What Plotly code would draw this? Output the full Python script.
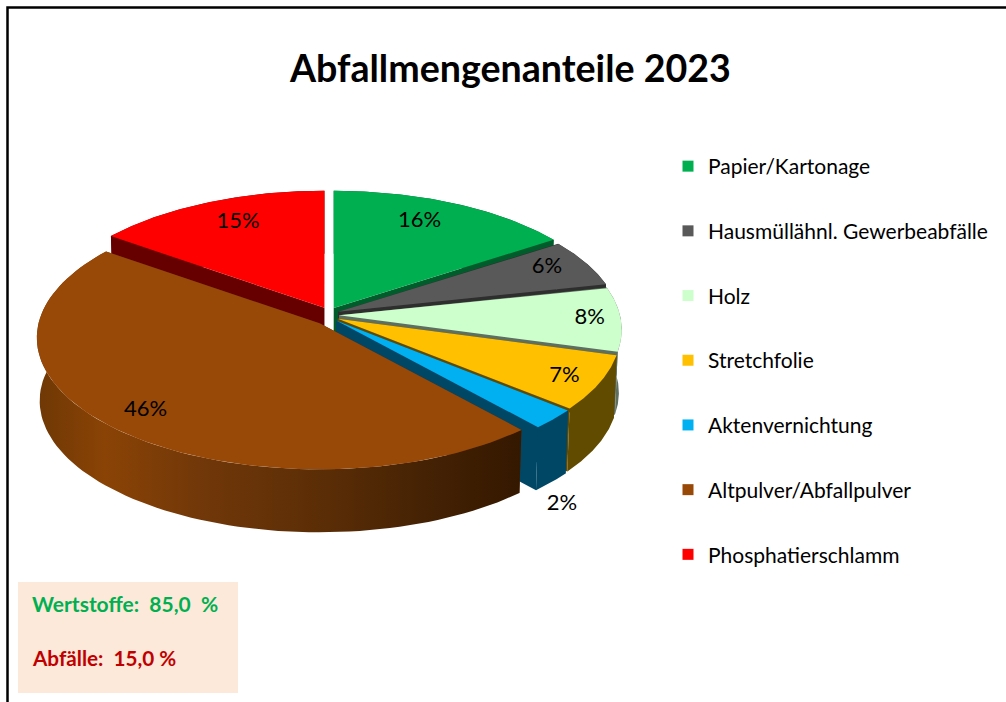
import numpy as np
import plotly.graph_objects as go

# ---- data ----
categories = ["Papier/Kartonage", "Hausmüllähnl. Gewerbeabfälle", "Holz", "Stretchfolie",
              "Aktenvernichtung", "Altpulver/Abfallpulver", "Phosphatierschlamm"]
values = [15.6, 5.9, 7.9, 6.7, 2.45, 46.45, 15.0]
top_colors = ["#00B050", "#595959", "#CCFFCC", "#FFC000", "#00B0F0", "#984807", "#FF0000"]
side_colors = ["#005C2B", "#2E2E2E", "#5F6F5F", "#614B00", "#004766", "#5A2C05", "#660000"]
title_text = "Abfallmengenanteile 2023"
summary_good = "Wertstoffe:  85,0  %"
summary_bad = "Abfälle:  15,0 %"

# ---- projection of the pie on the page (pixels) ----
CX, CY, RX, RY, K = 329.0, 315.0, 281.0, 130.0, 0.11
PULL_X, PULL_Y, DEPTH, SHRINK = 10.0, 8.0, 63.0, 0.99
PULL_SCALE = [1, 1, 1, 1, 1, 1.4, 1]
LABEL_RU = [0.70, 0.84, 0.89, 0.87, 1.03, 0.855, 0.73]
LABEL_RV = [0.81, 0.89, 0.89, 0.91, 1.21, 0.85, 0.79]
DRAW_ORDER = [6, 0, 1, 2, 3, 4, 5]


def project(theta, ru, rv, mid, scale=1.0, low=False):
    u, v = ru * np.sin(theta), rv * np.cos(theta)
    f = 1 / (1 + K * v)
    x = CX + scale * PULL_X * np.sin(mid) + RX * u * f * (SHRINK if low else 1)
    y = CY - scale * PULL_Y * np.cos(mid) - RY * v * f + (DEPTH if low else 0)
    return x, y


def poly(fig, xs, ys, color=None, gradient=None, name=None):
    kw = dict(fillgradient=gradient) if gradient else dict(fillcolor=color)
    fig.add_trace(go.Scatter(x=xs, y=ys, mode="lines", fill="toself", line=dict(width=0),
                             hoverinfo="skip", showlegend=False, name=name, **kw))


fig = go.Figure()
edges = np.radians(np.cumsum([0] + values) / sum(values) * 360)
brown_gradient = dict(type="horizontal", colorscale=[
    [0.0, "#6E3805"], [0.14, "#8A4305"], [0.35, "#703709"],
    [0.6, "#5A2D06"], [0.8, "#452204"], [1.0, "#341800"]])

for i in DRAW_ORDER:
    cat = categories[i]
    a0, a1 = edges[i], edges[i + 1]
    mid = (a0 + a1) / 2
    s = PULL_SCALE[i]
    th = np.linspace(a0, a1, 90)
    tx, ty = project(th, 1.0, 1.0, mid, s)
    bx, by = project(th, 1.0, 1.0, mid, s, low=True)
    ax, ay = project(0.0, 0.0, 0.0, mid, s)
    ax2, ay2 = project(0.0, 0.0, 0.0, mid, s, low=True)
    # radial cut faces
    for k in (0, -1):
        poly(fig, [ax, tx[k], bx[k], ax2, ax], [ay, ty[k], by[k], ay2, ay], color=side_colors[i])
    # outer wall
    wall_x = np.r_[tx, bx[::-1], tx[0]]
    wall_y = np.r_[ty, by[::-1], ty[0]]
    if cat.startswith("Altpulver"):
        poly(fig, wall_x, wall_y, gradient=brown_gradient)
    else:
        poly(fig, wall_x, wall_y, color=side_colors[i])
    # top face
    poly(fig, np.r_[ax, tx, ax], np.r_[ay, ty, ay], color=top_colors[i], name=cat)

# percentage labels
lx, ly, lt = [], [], []
for i, v in enumerate(values):
    mid = (edges[i] + edges[i + 1]) / 2
    px, py = project(mid, LABEL_RU[i], LABEL_RV[i], mid, PULL_SCALE[i], low=LABEL_RV[i] > 1)
    lx.append(px); ly.append(py); lt.append(f"{round(v)}%")
fig.add_trace(go.Scatter(x=lx, y=ly, text=lt, mode="text", hoverinfo="skip", showlegend=False,
                         textfont=dict(family="Lato", size=22, color="#000000")))

# legend entries
for cat, col in zip(categories, top_colors):
    fig.add_trace(go.Scatter(x=[None], y=[None], mode="markers", name=cat, legendgroup=cat,
                             marker=dict(symbol="square", size=11, color=col)))

fig.update_layout(
    width=1006, height=702, margin=dict(l=0, r=0, t=0, b=0),
    paper_bgcolor="#FFFFFF", plot_bgcolor="#FFFFFF",
    xaxis=dict(range=[0, 1006], visible=False, fixedrange=True),
    yaxis=dict(range=[702, 0], visible=False, fixedrange=True),
    legend=dict(x=668 / 1006, y=1 - 146 / 702, xanchor="left", yanchor="top",
                font=dict(family="Lato", size=21, color="#000000"),
                tracegroupgap=34.4, bgcolor="rgba(0,0,0,0)", borderwidth=0),
    shapes=[
        dict(type="path", path="M 7.5 702 L 7.5 7.5 L 1006 7.5", xref="x", yref="y",
             line=dict(color="#000000", width=2.5)),
        dict(type="rect", x0=18, x1=238, y0=582, y1=693, xref="x", yref="y",
             fillcolor="#FDE9D9", line=dict(width=0), layer="below"),
    ],
    annotations=[
        dict(text=f"<b>{title_text}</b>", x=510, y=67.5, xref="x", yref="y", showarrow=False,
             font=dict(family="Lato", size=37.6, color="#000000")),
        dict(text=f"<b>{summary_good}</b>", x=29.5, y=603, xref="x", yref="y", showarrow=False,
             xanchor="left", font=dict(family="Lato", size=21, color="#00B050")),
        dict(text=f"<b>{summary_bad}</b>", x=29.5, y=658, xref="x", yref="y", showarrow=False,
             xanchor="left", font=dict(family="Lato", size=20.7, color="#C00000")),
    ],
)

fig.write_html("out.html", config={"displayModeBar": False},
               post_script="document.body.style.margin='0';document.documentElement.style.overflow='hidden';")
